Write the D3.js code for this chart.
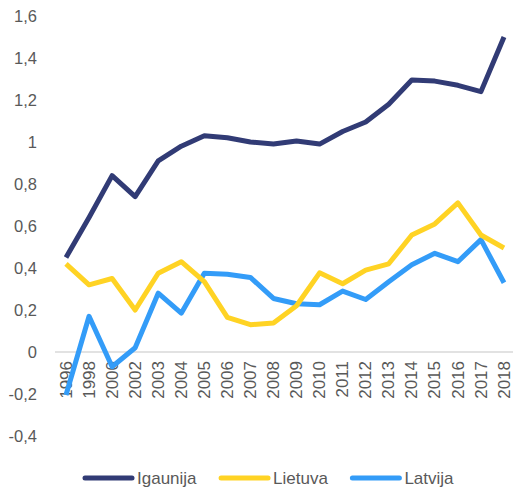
<!DOCTYPE html>
<html>
<head>
<meta charset="utf-8">
<script src="https://cdn.jsdelivr.net/npm/d3@7"></script>
<style>
  html, body { margin: 0; padding: 0; background: #fff; }
  svg { display: block; font-family: "Liberation Sans", Arial, sans-serif; }
</style>
</head>
<body>
<svg id="chart" width="513" height="488"></svg>
<script>
const years = ["1996","1998","2000","2002","2003","2004","2005","2006","2007","2008","2009","2010","2011","2012","2013","2014","2015","2016","2017","2018"];
const igaunija = [0.45,0.64,0.84,0.74,0.91,0.98,1.03,1.02,1.00,0.99,1.005,0.99,1.05,1.095,1.18,1.295,1.29,1.27,1.24,1.50];
const lietuva  = [0.42,0.32,0.35,0.20,0.375,0.43,0.335,0.165,0.13,0.138,0.22,0.377,0.325,0.39,0.42,0.557,0.61,0.71,0.557,0.495];
const latvija  = [-0.205,0.17,-0.07,0.02,0.28,0.185,0.375,0.37,0.355,0.255,0.23,0.225,0.29,0.25,0.335,0.415,0.47,0.43,0.535,0.33];
const seriesNames = ["Igaunija","Lietuva","Latvija"];
const seriesColors = ["#313B75","#FFD324","#339CF8"];
const yTicks = [-0.4,-0.2,0,0.2,0.4,0.6,0.8,1,1.2,1.4,1.6];

const series = [igaunija, lietuva, latvija];
const svg = d3.select("#chart");
const x = d3.scalePoint().domain(years).range([66, 504]);
const y = d3.scaleLinear().domain([-0.4, 1.6]).range([436, 16]);

const loc = d3.formatLocale({decimal: ",", thousands: " ", grouping: [3], currency: ["", ""], minus: "-"});
const fmt = loc.format("~g");

// Y axis labels
const yAxis = svg.append("g").attr("transform", "translate(40,0)")
  .call(d3.axisLeft(y).tickValues(yTicks).tickSize(0).tickPadding(3).tickFormat(fmt));
yAxis.select(".domain").remove();
yAxis.selectAll("text").attr("fill", "#595959").style("font-size", "16.5px")
  .style("font-family", "'Liberation Sans', Arial, sans-serif");

// Zero line
svg.append("line").attr("x1", 55).attr("x2", 513).attr("y1", y(0)).attr("y2", y(0))
  .attr("stroke", "#D9D9D9").attr("stroke-width", 1.5);

// X axis labels
const xAxis = svg.append("g").attr("transform", `translate(0,${y(0)})`)
  .call(d3.axisBottom(x).tickSize(0));
xAxis.select(".domain").remove();
xAxis.selectAll("text")
  .attr("x", -9).attr("y", 0).attr("dy", "0.3em")
  .attr("transform", "rotate(-90)")
  .style("text-anchor", "end")
  .attr("fill", "#595959").style("font-size", "17px")
  .style("font-family", "'Liberation Sans', Arial, sans-serif");

// Lines
const line = d3.line().x((d, i) => x(years[i])).y(d => y(d));
[2, 1, 0].forEach(k => {
  svg.append("path").datum(series[k]).attr("d", line)
    .attr("fill", "none").attr("stroke", seriesColors[k]).attr("stroke-width", 5)
    .attr("stroke-linejoin", "round");
});

// Legend
const lg = svg.append("g");
let lx = 85;
seriesNames.forEach((name, k) => {
  lg.append("line").attr("x1", lx).attr("x2", lx + 47).attr("y1", 478).attr("y2", 478)
    .attr("stroke", seriesColors[k]).attr("stroke-width", 5).attr("stroke-linecap", "round");
  const t = lg.append("text").attr("x", lx + 52).attr("y", 478).attr("dy", "0.35em")
    .attr("fill", "#595959").style("font-size", "17px").text(name);
  lx += 52 + t.node().getComputedTextLength() + 24.5;
});
</script>
</body>
</html>
